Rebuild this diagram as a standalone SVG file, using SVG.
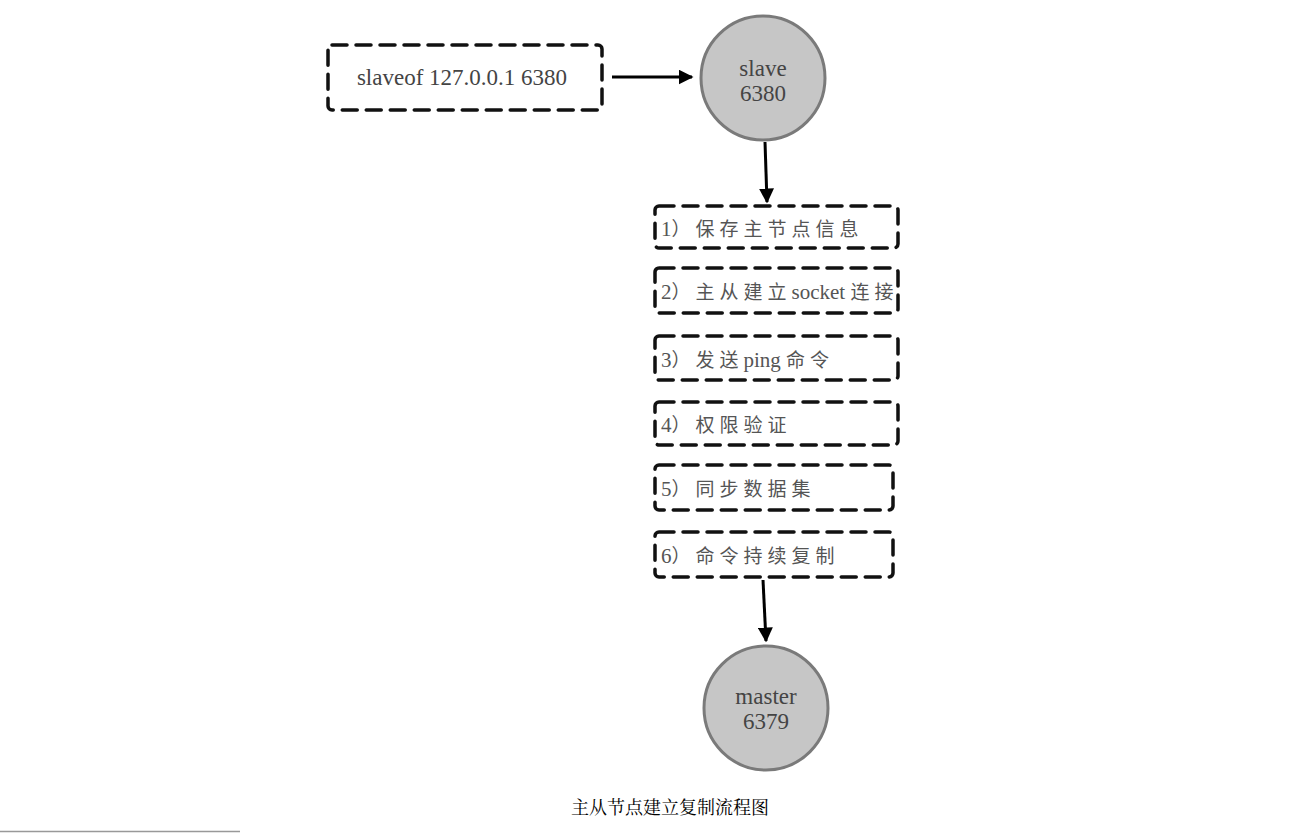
<svg xmlns="http://www.w3.org/2000/svg" width="1306" height="833" viewBox="0 0 1306 833">
<style>
.box{fill:none;stroke:#111;stroke-width:3.5;stroke-dasharray:15 9;stroke-linecap:round}
.circ{fill:#c6c6c6;stroke:#7a7a7a;stroke-width:3}
.lat{font-family:"Liberation Serif",serif;font-size:23px;fill:#444}
.stp{font-family:"Liberation Serif","Noto Sans CJK SC",serif;font-size:21px;fill:#555}
.zh{font-family:"Noto Sans CJK SC",sans-serif;font-size:19px;letter-spacing:5px}
.conn{stroke:#000;stroke-width:3;fill:none}
.cap{font-family:"Noto Serif CJK SC","Noto Sans CJK SC",serif;font-size:18px;fill:#000}
</style>
<defs>
<marker id="ah" viewBox="0 0 10 10" refX="9" refY="5" markerWidth="5" markerHeight="5" orient="auto" markerUnits="strokeWidth">
<path d="M0,0 L10,5 L0,10 z" fill="#000"/>
</marker>
</defs>
<rect width="1306" height="833" fill="#fff"/>
<g id="connectors">
<line class="conn" x1="612" y1="77" x2="692" y2="77" marker-end="url(#ah)"/>
<line class="conn" x1="765" y1="142" x2="767" y2="202" marker-end="url(#ah)"/>
<line class="conn" x1="763" y1="580" x2="766" y2="641" marker-end="url(#ah)"/>
</g>
<g id="cmd">
<rect class="box" x="328" y="45" width="274" height="65" rx="4"/>
<text class="lat" x="462" y="85" text-anchor="middle">slaveof 127.0.0.1 6380</text>
</g>
<g id="slave">
<circle class="circ" cx="763" cy="78" r="62"/>
<text class="lat" x="763" y="76" text-anchor="middle">slave</text>
<text class="lat" x="763" y="101" text-anchor="middle">6380</text>
</g>
<g id="step1">
<rect class="box" x="655" y="206" width="243" height="42" rx="4"/>
<text class="stp" x="661" y="236">1<tspan class="zh">）保存主节点信息</tspan></text>
</g>
<g id="step2">
<rect class="box" x="655" y="268" width="243" height="45" rx="4"/>
<text class="stp" x="661" y="299">2<tspan class="zh">）主从建立</tspan>socket <tspan class="zh">连接</tspan></text>
</g>
<g id="step3">
<rect class="box" x="655" y="336" width="243" height="44" rx="4"/>
<text class="stp" x="661" y="367">3<tspan class="zh">）发送</tspan>ping <tspan class="zh">命令</tspan></text>
</g>
<g id="step4">
<rect class="box" x="655" y="402" width="243" height="43" rx="4"/>
<text class="stp" x="661" y="432">4<tspan class="zh">）权限验证</tspan></text>
</g>
<g id="step5">
<rect class="box" x="655" y="465" width="238" height="45" rx="4"/>
<text class="stp" x="661" y="496">5<tspan class="zh">）同步数据集</tspan></text>
</g>
<g id="step6">
<rect class="box" x="655" y="532" width="238" height="45" rx="4"/>
<text class="stp" x="661" y="563">6<tspan class="zh">）命令持续复制</tspan></text>
</g>
<g id="master">
<circle class="circ" cx="766" cy="708" r="62"/>
<text class="lat" x="766" y="704" text-anchor="middle">master</text>
<text class="lat" x="766" y="729" text-anchor="middle">6379</text>
</g>
<text class="cap" x="670" y="814" text-anchor="middle">主从节点建立复制流程图</text>
<line x1="0" y1="831.5" x2="240" y2="831.5" stroke="#999" stroke-width="1.5"/>
</svg>
